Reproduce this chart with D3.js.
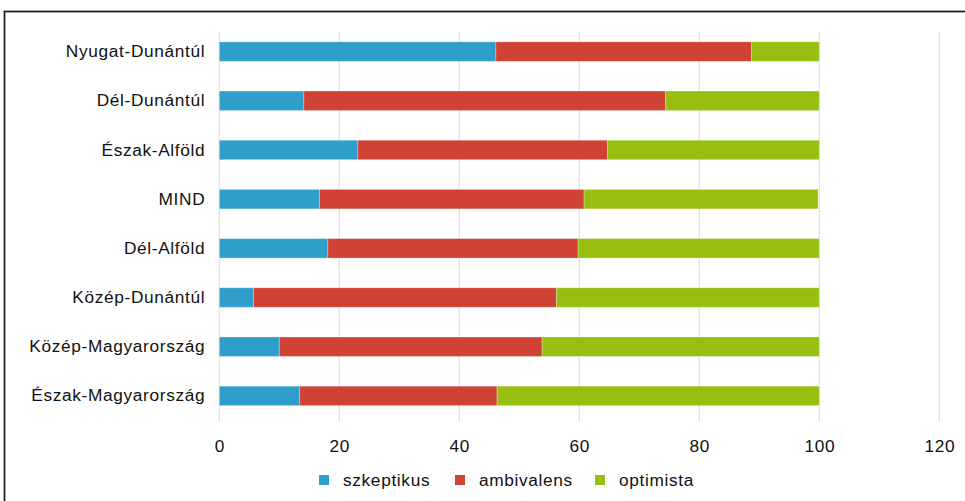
<!DOCTYPE html>
<html>
<head>
<meta charset="utf-8">
<script src="https://cdn.jsdelivr.net/npm/d3@7"></script>
<style>
  html, body { margin: 0; padding: 0; background: #fff; }
  svg { display: block; font-family: "Liberation Sans", Arial, sans-serif; }
</style>
</head>
<body>
<svg id="chart" width="965" height="501"></svg>
<script>
// Regions, top to bottom
const regions = [
  "Nyugat-Dunántúl", "Dél-Dunántúl", "Észak-Alföld", "MIND",
  "Dél-Alföld", "Közép-Dunántúl", "Közép-Magyarország", "Észak-Magyarország"
];
// Share of respondents (%) in each attitude group
const szkeptikus = [46.1, 14.1, 23.1, 16.7, 18.1, 5.7, 10.0, 13.4];
const ambivalens = [42.6, 60.3, 41.6, 44.1, 41.7, 50.5, 43.8, 32.9];
const optimista  = [11.3, 25.6, 35.3, 39.0, 40.2, 43.8, 46.2, 53.7];
const seriesNames = ["szkeptikus", "ambivalens", "optimista"];
const seriesColors = ["#2f9ecb", "#d04334", "#97bf0f"];
const xTicks = [0, 20, 40, 60, 80, 100, 120];

const FONT = "'Liberation Sans', Arial, sans-serif";
const FONT_SIZE = 17.3;
const LETTER_SPACING = "0.65px";

const rows = regions.map((r, i) => ({
  region: r,
  szkeptikus: szkeptikus[i],
  ambivalens: ambivalens[i],
  optimista: optimista[i]
}));

const svg = d3.select("#chart");

// outer frame
svg.append("rect")
  .attr("x", 4.5).attr("y", 11.5)
  .attr("width", 980).attr("height", 520)
  .attr("fill", "none")
  .attr("stroke", "#bbb").attr("stroke-width", 3);
svg.append("rect")
  .attr("x", 4.5).attr("y", 11.5)
  .attr("width", 980).attr("height", 520)
  .attr("fill", "none")
  .attr("stroke", "#1a1a1a").attr("stroke-width", 1.2);

const x = d3.scaleLinear().domain([0, 120]).range([219.3, 939.3]);
const y = d3.scaleBand().domain(regions)
  .range([27, 420.5])
  .paddingInner(0.604)
  .paddingOuter(0.302);

// vertical gridlines
svg.append("g")
  .selectAll("line")
  .data(xTicks)
  .join("line")
  .attr("x1", d => x(d)).attr("x2", d => x(d))
  .attr("y1", 33).attr("y2", 422)
  .attr("stroke", "#e3e3e3").attr("stroke-width", 1.3);

// stacked bars
const stack = d3.stack().keys(seriesNames);
const layers = stack(rows);
const color = d3.scaleOrdinal().domain(seriesNames).range(seriesColors);

svg.append("g")
  .selectAll("g")
  .data(layers)
  .join("g")
  .attr("fill", d => color(d.key))
  .selectAll("rect")
  .data(d => d)
  .join("rect")
  .attr("x", d => x(d[0]))
  .attr("y", d => y(d.data.region))
  .attr("width", d => x(d[1]) - x(d[0]))
  .attr("height", y.bandwidth())
  .attr("stroke", "rgba(255,255,255,0.35)")
  .attr("stroke-width", 0.8);

// category labels
const yAxis = d3.axisLeft(y).tickSize(0).tickPadding(14);
const yg = svg.append("g")
  .attr("transform", `translate(${x(0)},0)`)
  .call(yAxis);
yg.select(".domain").remove();
yg.selectAll("text")
  .attr("font-size", FONT_SIZE)
  .attr("fill", "#111")
  .style("letter-spacing", LETTER_SPACING)
  .style("font-family", FONT);

// value axis labels
const xAxis = d3.axisBottom(x).tickValues(xTicks).tickSize(0).tickPadding(0);
const xg = svg.append("g")
  .attr("transform", "translate(0,440)")
  .call(xAxis);
xg.select(".domain").remove();
xg.selectAll("text")
  .attr("font-size", FONT_SIZE)
  .attr("fill", "#111")
  .attr("dy", "0.7em")
  .attr("y", 0)
  .style("letter-spacing", LETTER_SPACING)
  .style("font-family", FONT);

// legend
const legendX = [319, 455, 595];
const legend = svg.append("g")
  .selectAll("g")
  .data(seriesNames)
  .join("g")
  .attr("transform", (d, i) => `translate(${legendX[i]},475)`);
legend.append("rect")
  .attr("width", 10).attr("height", 10)
  .attr("fill", d => color(d));
legend.append("text")
  .attr("x", 24).attr("y", 5)
  .attr("dy", "0.35em")
  .attr("font-size", FONT_SIZE)
  .attr("fill", "#111")
  .style("letter-spacing", LETTER_SPACING)
  .style("font-family", FONT)
  .text(d => d);
</script>
</body>
</html>
